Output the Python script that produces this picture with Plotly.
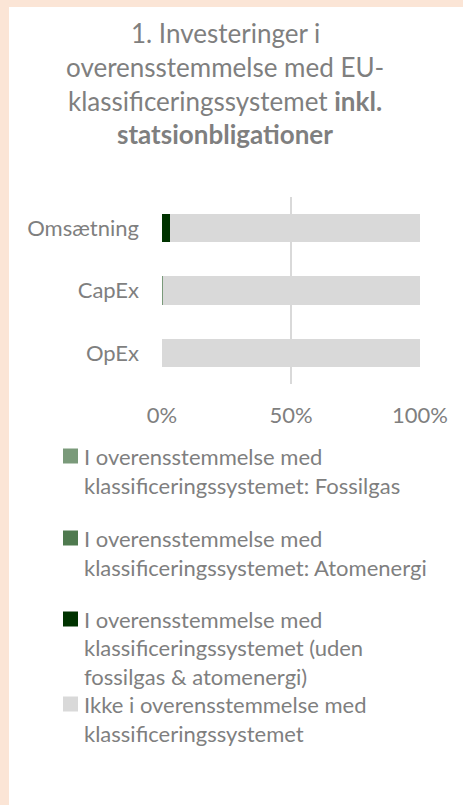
import plotly.graph_objects as go

# ---- data ----
categories = ["Omsætning", "CapEx", "OpEx"]
fossilgas = [0.0, 0.3, 0.0]
atomenergi = [0.0, 0.0, 0.0]
uden_fossil_atom = [3.0, 0.0, 0.0]
ikke_aligned = [97.0, 99.7, 100.0]
tick_vals = [0, 50, 100]
tick_text = ["0%", "50%", "100%"]

series_names = [
    "I overensstemmelse med klassificeringssystemet: Fossilgas",
    "I overensstemmelse med klassificeringssystemet: Atomenergi",
    "I overensstemmelse med klassificeringssystemet (uden fossilgas & atomenergi)",
    "Ikke i overensstemmelse med klassificeringssystemet",
]
legend_lines = [
    ["I overensstemmelse med", "klassificeringssystemet: Fossilgas"],
    ["I overensstemmelse med", "klassificeringssystemet: Atomenergi"],
    ["I overensstemmelse med", "klassificeringssystemet (uden", "fossilgas & atomenergi)"],
    ["Ikke i overensstemmelse med", "klassificeringssystemet"],
]
colors = ["#7A9A7A", "#4F7A4F", "#003300", "#D9D9D9"]
title_lines = [
    "1. Investeringer i",
    "overensstemmelse med EU-",
    "klassificeringssystemet <b>inkl.</b>",
    "<b>statsionbligationer</b>",
]

W, H = 463, 805
L, R, T, B = 162, 43, 197, 421
PW, PH = W - L - R, H - T - B
FONT = "Lato, 'Open Sans', sans-serif"
TXT = "#7F7F7F"


def px(x):
    return (x - L) / PW


def py(y):
    return (H - B - y) / PH


fig = go.Figure()
for name, vals, col in zip(series_names,
                           [fossilgas, atomenergi, uden_fossil_atom, ikke_aligned],
                           colors):
    fig.add_trace(go.Bar(y=categories, x=vals, name=name, orientation="h",
                         marker=dict(color=col, line=dict(width=0)),
                         showlegend=False, hoverinfo="x+y+name"))

shapes = [
    dict(type="rect", xref="paper", yref="paper", x0=px(9), x1=px(W + 20),
         y0=py(7), y1=py(H + 20), fillcolor="white", line=dict(width=0), layer="below"),
]
annotations = []

# title
title_y = [33, 67, 101, 134]
for t, yy in zip(title_lines, title_y):
    annotations.append(dict(text=t, x=px(225), y=py(yy), xref="paper", yref="paper",
                            xanchor="center", yanchor="middle", showarrow=False,
                            font=dict(family=FONT, size=26, color=TXT)))

# legend
sq_centers = [456, 538, 619, 704]
line_gaps = [29, 29, 28.5, 29]
for lines, col, yc, gap in zip(legend_lines, colors, sq_centers, line_gaps):
    shapes.append(dict(type="rect", xref="paper", yref="paper",
                       x0=px(63), x1=px(78), y0=py(yc - 7.5), y1=py(yc + 7.5),
                       fillcolor=col, line=dict(width=0)))
    for i, ln in enumerate(lines):
        annotations.append(dict(text=ln, x=px(82), y=py(yc + i * gap),
                                xref="paper", yref="paper", xanchor="left",
                                yanchor="middle", showarrow=False,
                                font=dict(family=FONT, size=22, color=TXT)))

fig.update_layout(
    width=W, height=H,
    margin=dict(l=L, r=R, t=T, b=B, pad=0),
    paper_bgcolor="#FBE5D6", plot_bgcolor="white",
    barmode="stack", bargap=0.55,
    font=dict(family=FONT, color=TXT, size=22),
    shapes=shapes, annotations=annotations,
    xaxis=dict(range=[0, 100], tickvals=tick_vals, ticktext=tick_text,
               showgrid=True, gridcolor="#D9D9D9", gridwidth=1.5,
               zeroline=False, showline=False, ticks="",
               tickfont=dict(size=22, color=TXT), ticklabelstandoff=16),
    yaxis=dict(autorange="reversed", showgrid=False, zeroline=False,
               showline=False, ticks="", ticklabelstandoff=22,
               tickfont=dict(size=22, color=TXT)),
)

fig.write_html("out.html", config={"displayModeBar": False},
               post_script="document.body.style.margin='0';document.body.style.overflow='hidden';")
